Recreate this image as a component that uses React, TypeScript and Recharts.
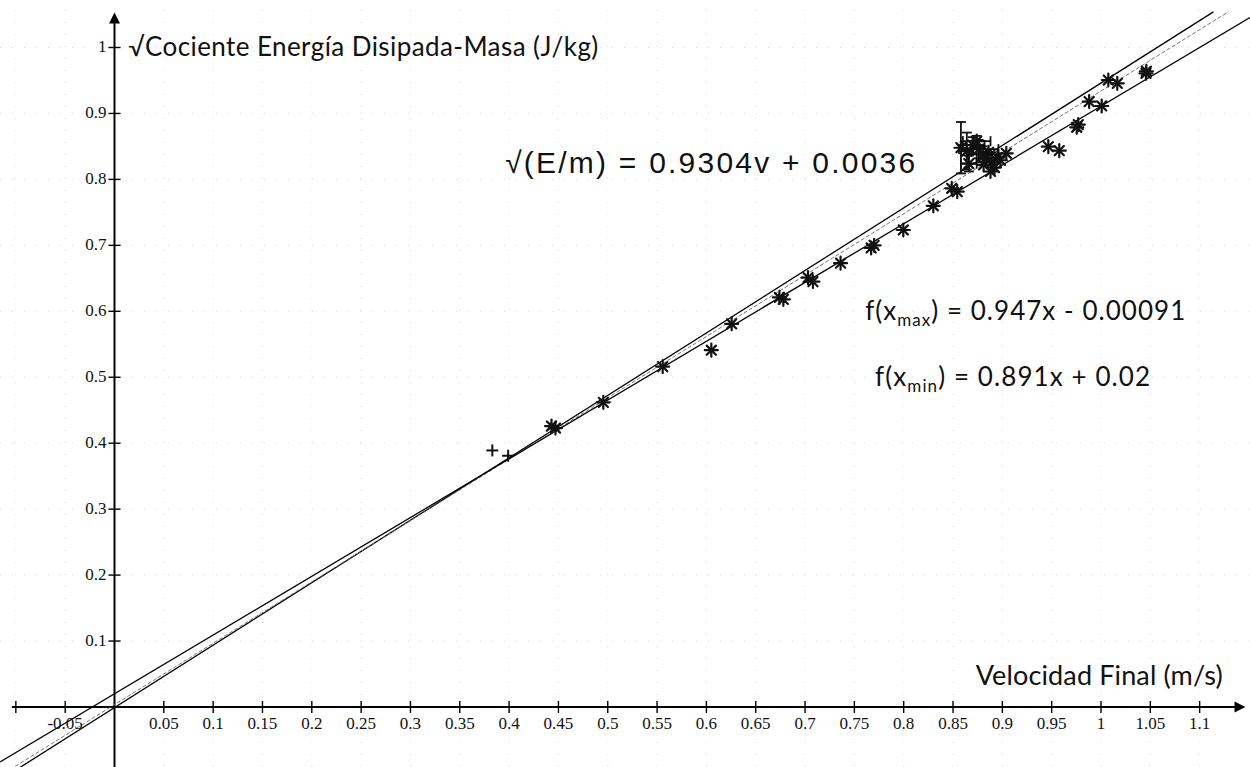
import React from "react";
import {
  ComposedChart,
  Scatter,
  XAxis,
  YAxis,
  ReferenceLine,
  ReferenceDot,
  ErrorBar,
} from "recharts";

// ---------- data ----------
const xTickValues = [-0.1, -0.05, 0.05, 0.1, 0.15, 0.2, 0.25, 0.3, 0.35, 0.4, 0.45, 0.5, 0.55, 0.6, 0.65, 0.7, 0.75, 0.8, 0.85, 0.9, 0.95, 1, 1.05, 1.1];
const xTickLabels = ["", "-0.05", "0.05", "0.1", "0.15", "0.2", "0.25", "0.3", "0.35", "0.4", "0.45", "0.5", "0.55", "0.6", "0.65", "0.7", "0.75", "0.8", "0.85", "0.9", "0.95", "1", "1.05", "1.1"];
const yTickValues = [0.1, 0.2, 0.3, 0.4, 0.5, 0.6, 0.7, 0.8, 0.9, 1];
const yTickLabels = ["0.1", "0.2", "0.3", "0.4", "0.5", "0.6", "0.7", "0.8", "0.9", "1"];

const gridX = [-0.1, -0.05, 0.05, 0.1, 0.15, 0.2, 0.25, 0.3, 0.35, 0.4, 0.45, 0.5, 0.55, 0.6, 0.65, 0.7, 0.75, 0.8, 0.85, 0.9, 0.95, 1, 1.05, 1.1];
const gridY = [0.1, 0.2, 0.3, 0.4, 0.5, 0.6, 0.7, 0.8, 0.9, 1];

// measured points (velocidad final, sqrt(E/m))
const plusX = [0.383, 0.399];
const plusY = [0.389, 0.381];

const starX = [0.443, 0.447, 0.4955, 0.5557, 0.605, 0.6256, 0.674, 0.678, 0.703, 0.708, 0.736, 0.767, 0.770, 0.7996, 0.830, 0.8487, 0.8543,
  0.886, 0.889, 0.892, 0.895, 0.888, 0.898, 0.881,
  0.904, 0.9466, 0.9577, 0.9754, 0.977, 0.988, 1.0007, 1.0074, 1.0165, 1.0456, 1.046];
const starY = [0.426, 0.423, 0.462, 0.516, 0.541, 0.581, 0.621, 0.618, 0.651, 0.645, 0.673, 0.696, 0.700, 0.7233, 0.760, 0.7865, 0.7814,
  0.841, 0.826, 0.818, 0.833, 0.812, 0.829, 0.822,
  0.8396, 0.8496, 0.8436, 0.879, 0.883, 0.918, 0.9113, 0.9507, 0.9457, 0.9609, 0.964];

// points with error bars (cluster near v = 0.87)
const errX = [0.858, 0.864, 0.870, 0.876, 0.880, 0.884, 0.866, 0.874];
const errY = [0.848, 0.843, 0.852, 0.846, 0.838, 0.832, 0.824, 0.858];
const errDx = [0, 0.006, 0.012, 0.02, 0.016, 0.01, 0.008, 0.014];
const errDy = [0.039, 0.028, 0.012, 0.014, 0.012, 0.01, 0.012, 0.008];

// fitted lines: y = m x + b
const fitNames = ["max", "reg", "min"];
const fitSlopes = [0.947, 0.9304, 0.891];
const fitIntercepts = [-0.00091, 0.0036, 0.02];

// ---------- layout ----------
const W = 1250;
const H = 767;
const X_MIN = -0.11607;
const X_MAX = 1.15104;
const Y_MIN = -0.09098;
const Y_MAX = 1.07202;
const Y_VIEW_TOP = 1.054;

const xTicks = xTickValues.map((x, i) => ({ x, y: 0, label: xTickLabels[i] }));
const yTicks = yTickValues.map((y, i) => ({ x: 0, y, label: yTickLabels[i] }));
const plusPts = plusX.map((x, i) => ({ x, y: plusY[i] }));
const starPts = starX.map((x, i) => ({ x, y: starY[i] }));
const errPts = errX.map((x, i) => ({ x, y: errY[i], dx: errDx[i], dy: errDy[i] }));

const fitSegments = fitNames.map((n, i) => {
  const m = fitSlopes[i];
  const b = fitIntercepts[i];
  const xEnd = Math.min(X_MAX, (Y_VIEW_TOP - b) / m);
  return { name: n, p1: { x: X_MIN, y: m * X_MIN + b }, p2: { x: xEnd, y: m * xEnd + b } };
});

const SERIF = "'Liberation Serif', 'DejaVu Serif', serif";
const SANS = "Lato, 'Open Sans', sans-serif";
const ARIAL = "'Liberation Sans', Arial, sans-serif";

const XTickShape = (p: any) => {
  const { cx, cy, payload } = p;
  return (
    <g>
      <line x1={cx} y1={cy - 6} x2={cx} y2={cy + 6} stroke="#000" strokeWidth={1.4} />
      <text x={cx} y={cy + 22} textAnchor="middle" fontFamily={SERIF} fontSize={17} fill="#111">
        {payload.label}
      </text>
    </g>
  );
};

const YTickShape = (p: any) => {
  const { cx, cy, payload } = p;
  return (
    <g>
      <line x1={cx - 6} y1={cy} x2={cx + 6} y2={cy} stroke="#000" strokeWidth={1.4} />
      <text x={cx - 8} y={cy + 5} textAnchor="end" fontFamily={SERIF} fontSize={17} fill="#111">
        {payload.label}
      </text>
    </g>
  );
};

const StarShape = (p: any) => {
  const { cx, cy } = p;
  const r = 6.5;
  const d = 4.6;
  return (
    <g stroke="#111" strokeWidth={2.2} strokeLinecap="round">
      <line x1={cx} y1={cy - r} x2={cx} y2={cy + r} />
      <line x1={cx - r} y1={cy} x2={cx + r} y2={cy} />
      <line x1={cx - d} y1={cy - d} x2={cx + d} y2={cy + d} />
      <line x1={cx - d} y1={cy + d} x2={cx + d} y2={cy - d} />
    </g>
  );
};

const PlusShape = (p: any) => {
  const { cx, cy } = p;
  const r = 6;
  return (
    <g stroke="#111" strokeWidth={2}>
      <line x1={cx} y1={cy - r} x2={cx} y2={cy + r} />
      <line x1={cx - r} y1={cy} x2={cx + r} y2={cy} />
    </g>
  );
};

const RightArrow = (p: any) => {
  const { cx, cy } = p;
  return <polygon points={`${cx},${cy} ${cx - 11},${cy - 5.5} ${cx - 11},${cy + 5.5}`} fill="#000" />;
};
const UpArrow = (p: any) => {
  const { cx, cy } = p;
  return <polygon points={`${cx},${cy} ${cx - 5.5},${cy + 11} ${cx + 5.5},${cy + 11}`} fill="#000" />;
};

const textAt = (render: (cx: number, cy: number) => React.ReactNode) => (p: any) => <g>{render(p.cx, p.cy)}</g>;

export default function App() {
  return (
    <div style={{ width: W, height: H, background: "#fff" }}>
      <style>{"body{margin:0;background:#fff}"}</style>
      <ComposedChart width={W} height={H} margin={{ top: 0, right: 0, bottom: 0, left: 0 }}>
        <XAxis type="number" dataKey="x" domain={[X_MIN, X_MAX]} allowDataOverflow hide />
        <YAxis type="number" dataKey="y" domain={[Y_MIN, Y_MAX]} allowDataOverflow hide />

        {gridX.map((g) => (
          <ReferenceLine key={`gx${g}`} x={g} stroke="#dadada" strokeWidth={1} strokeDasharray="1 11" ifOverflow="hidden" />
        ))}
        {gridY.map((g) => (
          <ReferenceLine key={`gy${g}`} y={g} stroke="#dadada" strokeWidth={1} strokeDasharray="1 11" ifOverflow="hidden" />
        ))}

        {/* axes */}
        <ReferenceLine segment={[{ x: -0.104, y: 0 }, { x: 1.14, y: 0 }]} stroke="#000" strokeWidth={2} ifOverflow="visible" />
        <ReferenceLine segment={[{ x: 0, y: Y_MIN }, { x: 0, y: 1.04 }]} stroke="#000" strokeWidth={2} ifOverflow="visible" />
        <ReferenceDot x={1.1465} y={0} r={0} shape={RightArrow} ifOverflow="visible" />
        <ReferenceDot x={0} y={1.053} r={0} shape={UpArrow} ifOverflow="visible" />

        {/* fitted lines */}
        {fitSegments.map((s) => (
          <ReferenceLine
            key={s.name}
            segment={[s.p1, s.p2]}
            stroke={s.name === "reg" ? "#666" : "#000"}
            strokeWidth={s.name === "reg" ? 0.9 : 1.3}
            strokeDasharray={s.name === "reg" ? "4 2" : undefined}
            ifOverflow="hidden"
          />
        ))}

        <Scatter data={xTicks} shape={XTickShape} isAnimationActive={false} />
        <Scatter data={yTicks} shape={YTickShape} isAnimationActive={false} />

        <Scatter data={errPts} shape={StarShape} isAnimationActive={false}>
          <ErrorBar dataKey="dy" direction="y" width={5} stroke="#111" strokeWidth={1.8} isAnimationActive={false} />
          <ErrorBar dataKey="dx" direction="x" width={5} stroke="#111" strokeWidth={1.8} isAnimationActive={false} />
        </Scatter>
        <Scatter data={starPts} shape={StarShape} isAnimationActive={false} />
        <Scatter data={plusPts} shape={PlusShape} isAnimationActive={false} />

        {/* texts */}
        <ReferenceDot
          x={0.014}
          y={1.0}
          r={0}
          ifOverflow="visible"
          shape={textAt((cx, cy) => (
            <text x={cx} y={cy + 9} fontFamily={SANS} fontSize={26} fill="#111" textLength={470} lengthAdjust="spacing">
              √Cociente Energía Disipada-Masa (J/kg)
            </text>
          ))}
        />
        <ReferenceDot
          x={0.396}
          y={0.826}
          r={0}
          ifOverflow="visible"
          shape={textAt((cx, cy) => (
            <text x={cx} y={cy + 11} fontFamily={ARIAL} fontSize={30} fill="#111" textLength={410} lengthAdjust="spacing">
              √(E/m) = 0.9304v + 0.0036
            </text>
          ))}
        />
        <ReferenceDot
          x={0.761}
          y={0.6}
          r={0}
          ifOverflow="visible"
          shape={textAt((cx, cy) => (
            <text x={cx} y={cy + 9} fontFamily={SANS} fontSize={26} fill="#111" textLength={320} lengthAdjust="spacing">
              <tspan>f(x</tspan>
              <tspan fontSize={17} dy={6}>max</tspan>
              <tspan dy={-6}>) = 0.947x - 0.00091</tspan>
            </text>
          ))}
        />
        <ReferenceDot
          x={0.771}
          y={0.5}
          r={0}
          ifOverflow="visible"
          shape={textAt((cx, cy) => (
            <text x={cx} y={cy + 9} fontFamily={SANS} fontSize={26} fill="#111" textLength={275} lengthAdjust="spacing">
              <tspan>f(x</tspan>
              <tspan fontSize={17} dy={6}>min</tspan>
              <tspan dy={-6}>) = 0.891x + 0.02</tspan>
            </text>
          ))}
        />
        <ReferenceDot
          x={0.873}
          y={0.047}
          r={0}
          ifOverflow="visible"
          shape={textAt((cx, cy) => (
            <text x={cx} y={cy + 9} fontFamily={SANS} fontSize={27} fill="#111" textLength={247} lengthAdjust="spacing">
              Velocidad Final (m/s)
            </text>
          ))}
        />
      </ComposedChart>
    </div>
  );
}
